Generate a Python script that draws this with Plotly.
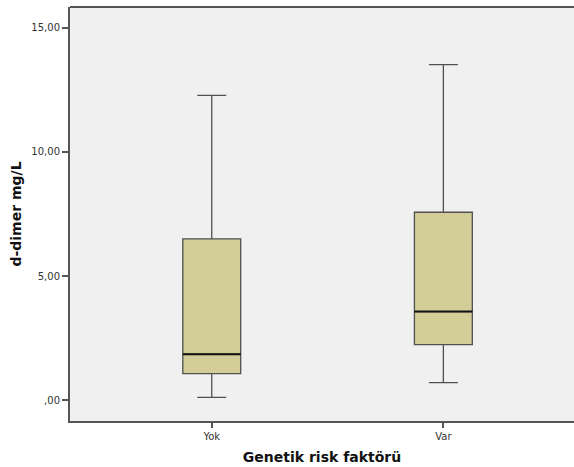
import plotly.graph_objects as go

categories = ["Yok", "Var"]
lower_whisker = [0.11, 0.71]
q1_values = [1.07, 2.24]
medians = [1.85, 3.57]
q3_values = [6.50, 7.57]
upper_whisker = [12.28, 13.52]
y_tick_values = [0, 5, 10, 15]
y_tick_labels = [",00", "5,00", "10,00", "15,00"]

xpos = list(range(len(categories)))
box_w = 0.25

fig = go.Figure()
fig.add_trace(go.Box(
    x=xpos, q1=q1_values, median=medians, q3=q3_values,
    lowerfence=lower_whisker, upperfence=upper_whisker,
    width=box_w, whiskerwidth=0.5,
    fillcolor="#d3ce98", line=dict(color="#505050", width=1.3),
    boxpoints=False, showlegend=False, hoverinfo="skip",
))
# darker median lines
mx, my = [], []
for p, m in zip(xpos, medians):
    mx += [p - box_w / 2, p + box_w / 2, None]
    my += [m, m, None]
fig.add_trace(go.Scatter(x=mx, y=my, mode="lines",
                         line=dict(color="#111111", width=2),
                         showlegend=False, hoverinfo="skip"))

fig.update_layout(
    width=574, height=467,
    margin=dict(l=70, r=0, t=7, b=46),
    paper_bgcolor="white", plot_bgcolor="#f0f0f0",
    font=dict(family="DejaVu Sans", color="#333333"),
    shapes=[dict(type="line", xref="paper", yref="paper", x0=0, x1=1, y0=1, y1=1,
                 line=dict(color="#555555", width=2))],
)
fig.update_xaxes(
    range=[-0.612, 1.564], tickvals=xpos, ticktext=categories,
    showgrid=False, zeroline=False, showline=True, linecolor="#555555", linewidth=2,
    ticks="outside", ticklen=5, tickcolor="#555555", tickwidth=2,
    tickfont=dict(size=10, color="#333333"),
    title=dict(text="<b>Genetik risk faktörü</b>", font=dict(size=14, color="#111111"), standoff=11),
)
fig.update_yaxes(
    range=[-0.84, 15.84], tickvals=y_tick_values, ticktext=y_tick_labels,
    showgrid=False, zeroline=False, showline=True, linecolor="#555555", linewidth=2,
    ticks="outside", ticklen=6, tickcolor="#555555", tickwidth=2,
    tickfont=dict(size=10, color="#333333"),
    title=dict(text="<b>d-dimer mg/L</b>", font=dict(size=14, color="#111111"), standoff=6),
)
fig.write_html("out.html")
